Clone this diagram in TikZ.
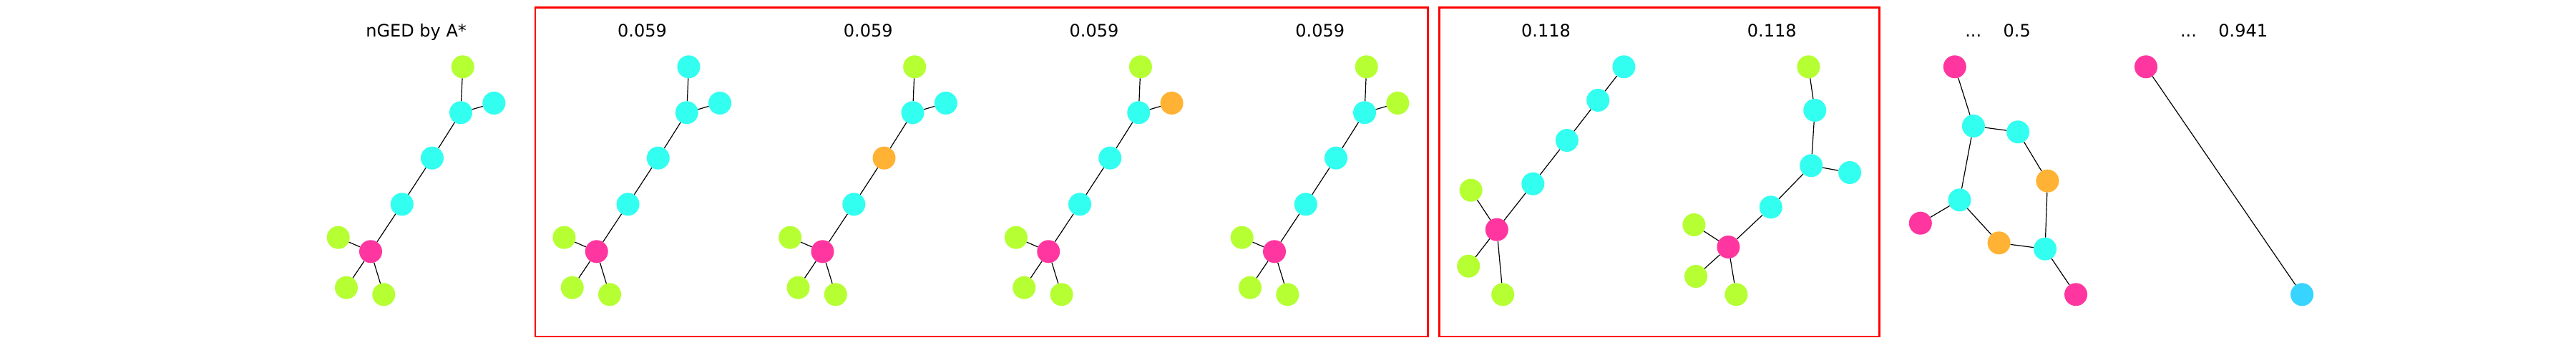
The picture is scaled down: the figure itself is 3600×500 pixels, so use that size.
\documentclass[tikz,border=0pt]{standalone}
\usepackage{fontspec}
\setmainfont{DejaVu Sans}
\definecolor{cgreen}{RGB}{181,255,51}
\definecolor{ccyan}{RGB}{51,255,240}
\definecolor{cmag}{RGB}{255,54,160}
\definecolor{corange}{RGB}{255,178,51}
\definecolor{cblue}{RGB}{54,212,255}
\begin{document}
\begin{tikzpicture}[x=1pt,y=-1pt,
  vtx/.style={circle,inner sep=0pt,minimum size=32pt,fill=#1},
  edge/.style={line width=1.2pt,black},
  frame/.style={draw=red,line width=2.7pt},
  ttl/.style={font=\fontsize{24}{28}\selectfont,anchor=base,inner sep=0pt}]
\useasboundingbox (0,0) rectangle (3600,500);

% red frames
\draw[frame] (748,10.5) rectangle (1995.5,470);
\draw[frame] (2011.2,10.5) rectangle (2626.3,470);

% panels 0-4: same tree shape
\foreach \k/\ca/\cd/\cc/\lab in {0/cgreen/ccyan/ccyan/{nGED by A*},1/ccyan/ccyan/ccyan/{0.059},2/cgreen/corange/ccyan/{0.059},3/cgreen/ccyan/corange/{0.059},4/cgreen/ccyan/cgreen/{0.059}}{
  \begin{scope}[xshift={\k*315.75}]
    \node[ttl] (t\k) at (581.7,52) {\lab};
    \node[vtx=\ca] (a\k) at (646.7,93.3) {};
    \node[vtx=ccyan] (b\k) at (644,157.3) {};
    \node[vtx=\cc] (c\k) at (690.3,144) {};
    \node[vtx=\cd] (d\k) at (604,220.7) {};
    \node[vtx=ccyan] (e\k) at (561.8,285.3) {};
    \node[vtx=cmag] (f\k) at (518,351.3) {};
    \node[vtx=cgreen] (g\k) at (472.7,331.7) {};
    \node[vtx=cgreen] (h\k) at (484,401.7) {};
    \node[vtx=cgreen] (i\k) at (536.3,411.3) {};
    \draw[edge] (a\k) -- (b\k);
    \draw[edge] (b\k) -- (c\k);
    \draw[edge] (b\k) -- (d\k);
    \draw[edge] (d\k) -- (e\k);
    \draw[edge] (e\k) -- (f\k);
    \draw[edge] (f\k) -- (g\k);
    \draw[edge] (f\k) -- (h\k);
    \draw[edge] (f\k) -- (i\k);
  \end{scope}
}

% panel 5
\node[ttl] (t5) at (2160.5,52) {0.118};
\node[vtx=ccyan] (p5a) at (2269.4,93.3) {};
\node[vtx=ccyan] (p5b) at (2233.2,140) {};
\node[vtx=ccyan] (p5c) at (2189.8,196) {};
\node[vtx=ccyan] (p5d) at (2142.3,256.7) {};
\node[vtx=cmag] (p5e) at (2091.8,320.7) {};
\node[vtx=cgreen] (p5f) at (2055.6,265.7) {};
\node[vtx=cgreen] (p5g) at (2052.2,371.7) {};
\node[vtx=cgreen] (p5h) at (2100.2,411.3) {};
\draw[edge] (p5a) -- (p5b);
\draw[edge] (p5b) -- (p5c);
\draw[edge] (p5c) -- (p5d);
\draw[edge] (p5d) -- (p5e);
\draw[edge] (p5e) -- (p5f);
\draw[edge] (p5e) -- (p5g);
\draw[edge] (p5e) -- (p5h);

% panel 6
\node[ttl] (t6) at (2476.3,52) {0.118};
\node[vtx=cgreen] (p6a) at (2527.4,93.3) {};
\node[vtx=ccyan] (p6b) at (2536.2,154) {};
\node[vtx=ccyan] (p6c) at (2531.2,231.3) {};
\node[vtx=ccyan] (p6d) at (2585.1,241) {};
\node[vtx=ccyan] (p6e) at (2474.8,289.3) {};
\node[vtx=cmag] (p6f) at (2415.4,345) {};
\node[vtx=cgreen] (p6g) at (2367.4,314) {};
\node[vtx=cgreen] (p6h) at (2370,386) {};
\node[vtx=cgreen] (p6i) at (2426.4,411.3) {};
\draw[edge] (p6a) -- (p6b);
\draw[edge] (p6b) -- (p6c);
\draw[edge] (p6c) -- (p6d);
\draw[edge] (p6c) -- (p6e);
\draw[edge] (p6e) -- (p6f);
\draw[edge] (p6f) -- (p6g);
\draw[edge] (p6f) -- (p6h);
\draw[edge] (p6f) -- (p6i);

% panel 7
\node[ttl] (t7) at (2792,52) {...\hspace{1.27em}0.5};
\node[vtx=cmag] (p7a) at (2731.8,93.3) {};
\node[vtx=ccyan] (p7b) at (2757.9,176) {};
\node[vtx=ccyan] (p7c) at (2820.1,184.3) {};
\node[vtx=corange] (p7d) at (2861.4,252.7) {};
\node[vtx=ccyan] (p7e) at (2738.5,279.3) {};
\node[vtx=cmag] (p7f) at (2683.8,311.7) {};
\node[vtx=corange] (p7g) at (2793.6,339.3) {};
\node[vtx=ccyan] (p7h) at (2858,347.7) {};
\node[vtx=cmag] (p7i) at (2901,411.3) {};
\draw[edge] (p7a) -- (p7b);
\draw[edge] (p7b) -- (p7c);
\draw[edge] (p7c) -- (p7d);
\draw[edge] (p7b) -- (p7e);
\draw[edge] (p7e) -- (p7f);
\draw[edge] (p7e) -- (p7g);
\draw[edge] (p7g) -- (p7h);
\draw[edge] (p7d) -- (p7h);
\draw[edge] (p7h) -- (p7i);

% panel 8
\node[ttl] (t8) at (3108,52) {...\hspace{1.27em}0.941};
\node[vtx=cmag] (p8a) at (2999,93.3) {};
\node[vtx=cblue] (p8b) at (3217.1,411.3) {};
\draw[edge] (p8a) -- (p8b);
\end{tikzpicture}
\end{document}
